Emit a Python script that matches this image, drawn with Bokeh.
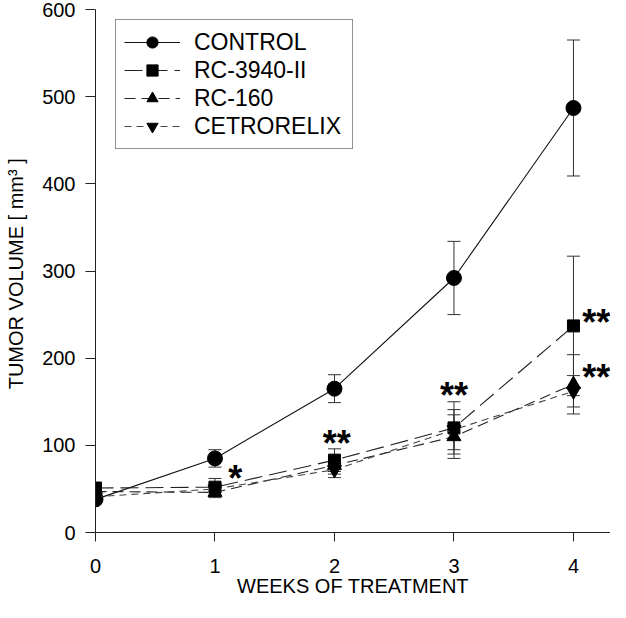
from bokeh.plotting import figure
from bokeh.models import (ColumnDataSource, Range1d, FixedTicker, Whisker, TeeHead,
                          Legend, LegendItem)
from bokeh.core.properties import value
from bokeh.embed import file_html
from bokeh.resources import INLINE

# ---- data ----
weeks = [0, 1, 2, 3, 4]
control = [38, 85, 165, 292, 487]
control_err = [5, 10, 16, 42, 78]
rc3940 = [51, 52, 83, 120, 237]
rc3940_err = [6, 10, 13, 30, 80]
rc160 = [47, 46, 77, 110, 170]
rc160_err = [4, 6, 10, 25, 34]
cetro = [41, 50, 72, 118, 162]
cetro_err = [4, 7, 9, 23, 18]

series_names = ["CONTROL", "RC-3940-II", "RC-160", "CETRORELIX"]
x_ticks = [0, 1, 2, 3, 4]
y_ticks = [0, 100, 200, 300, 400, 500, 600]

sig_x = [1.17, 2.02, 3.0, 4.19, 4.19]
sig_y = [72, 113, 167, 251, 188]
sig_text = ["*", "**", "**", "**", "**"]

FONT = "Liberation Sans"

p = figure(width=610, height=602, output_backend="svg", toolbar_location=None,
           x_range=Range1d(0, 4.31), y_range=Range1d(0, 600),
           min_border_left=95, min_border_right=0, min_border_top=9, min_border_bottom=70)
p.outline_line_color = None
p.xgrid.visible = False
p.ygrid.visible = False
p.background_fill_color = "white"

for ax in (p.xaxis[0], p.yaxis[0]):
    ax.axis_line_color = "#222222"
    ax.major_tick_line_color = "#222222"
    ax.minor_tick_line_color = None
    ax.major_tick_in = 0
    ax.major_label_text_font = FONT
    ax.major_label_text_font_size = "20px"
    ax.major_label_text_color = "black"
    ax.axis_label_text_font = FONT
    ax.axis_label_text_font_size = "20px"
    ax.axis_label_text_font_style = "normal"
    ax.axis_label_text_color = "black"

p.xaxis.ticker = FixedTicker(ticks=x_ticks)
p.yaxis.ticker = FixedTicker(ticks=y_ticks)
p.xaxis.major_tick_out = 9
p.yaxis.major_tick_out = 10
p.xaxis.major_label_standoff = 17
p.yaxis.major_label_standoff = 10
p.xaxis.axis_label = "WEEKS OF TREATMENT"
p.yaxis.axis_label = "TUMOR VOLUME  [ mm\u00b3 ]"
p.xaxis.axis_label_standoff = -1
p.yaxis.axis_label_standoff = 12

vals = [control, rc3940, rc160, cetro]
errs = [control_err, rc3940_err, rc160_err, cetro_err]
markers = ["circle", "square", "triangle", "inverted_triangle"]
msizes = [15, 12, 14, 14]
dashes = ["solid", "18 7", "11 6", "7 5"]
lcolors = ["#111111", "#222222", "#222222", "#444444"]

items = []
for name, v, e, m, ms, d, lc in zip(series_names, vals, errs, markers, msizes, dashes, lcolors):
    src = ColumnDataSource(dict(x=weeks, y=v,
                                upper=[a + b for a, b in zip(v, e)],
                                lower=[a - b for a, b in zip(v, e)]))
    wk = Whisker(base="x", upper="upper", lower="lower", source=src, dimension="height",
                 line_color="#333333", line_width=1,
                 upper_head=TeeHead(size=13, line_color="#333333", line_width=1),
                 lower_head=TeeHead(size=13, line_color="#333333", line_width=1))
    p.add_layout(wk)
    lr = p.line("x", "y", source=src, line_color=lc, line_width=1.1, line_dash=d)
    sr = p.scatter("x", "y", source=src, marker=m, size=ms, fill_color="black",
                   line_color="black")
    items.append(LegendItem(label=name, renderers=[lr, sr]))

p.text(x=sig_x, y=sig_y, text=sig_text, text_font=value(FONT), text_font_style="bold",
       text_font_size="36px", text_align="center", text_baseline="middle",
       text_color="black", y_offset=9)

legend = Legend(items=items, location=(20, 383), orientation="vertical",
                label_text_font=FONT, label_text_font_size="23px", label_text_color="black",
                glyph_width=56, glyph_height=28, label_height=28, spacing=0,
                padding=8, margin=0, label_standoff=14, label_width=150,
                border_line_color="#222222", border_line_width=1,
                background_fill_color="white", background_fill_alpha=1.0)
p.add_layout(legend)

open("out.html", "w").write(file_html(p, INLINE))
